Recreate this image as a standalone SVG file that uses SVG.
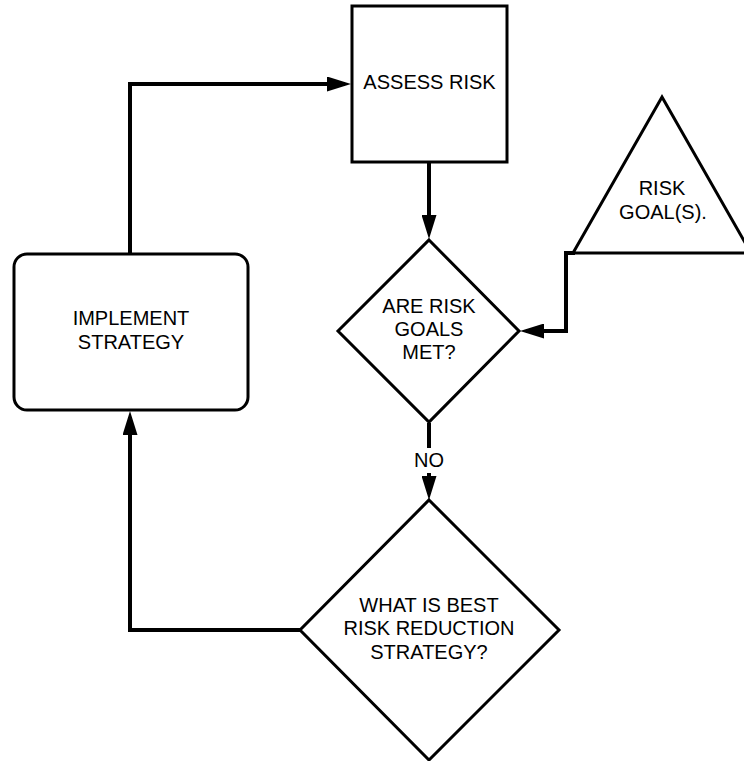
<svg xmlns="http://www.w3.org/2000/svg" width="744" height="761" viewBox="0 0 744 761">
<defs>
<style>
.shape{fill:#fff;stroke:#000;stroke-width:3;stroke-linejoin:miter}
.conn{fill:none;stroke:#000;stroke-width:4;stroke-linejoin:miter}
.lbl{font-family:"Liberation Sans",Arial,sans-serif;font-size:20px;fill:#000;text-anchor:middle}
</style>
<marker id="ah" viewBox="0 0 24 15" refX="18" refY="7.5" markerWidth="24" markerHeight="15" markerUnits="userSpaceOnUse" orient="auto">
<path d="M0,0 L24,7.5 L0,15 z" fill="#000"/>
</marker>
</defs>
<rect width="744" height="761" fill="#fff"/>
<g id="connectors">
<path class="conn" d="M130,254 L130,84 L345,84" marker-end="url(#ah)"/>
<path class="conn" d="M429,162 L429,233" marker-end="url(#ah)"/>
<path class="conn" d="M575,253 L566,253 L566,331 L526,331" marker-end="url(#ah)"/>
<path class="conn" d="M429,423 L429,494" marker-end="url(#ah)"/>
<path class="conn" d="M300,630 L130,630 L130,417" marker-end="url(#ah)"/>
<rect x="410" y="448" width="38" height="25" fill="#fff"/>
<text class="lbl" x="429" y="467">NO</text>
</g>
<g id="assess-risk">
<rect class="shape" x="352" y="6" width="155" height="156"/>
<text class="lbl" x="429.5" y="89">ASSESS RISK</text>
</g>
<g id="risk-goals">
<polygon class="shape" points="662,97 751,253 573,253"/>
<text class="lbl" x="662" y="195">RISK</text>
<text class="lbl" x="663" y="219">GOAL(S).</text>
</g>
<g id="are-goals-met">
<polygon class="shape" points="429,240 519,331 429,422 338,331"/>
<text class="lbl" x="429" y="313">ARE RISK</text>
<text class="lbl" x="429" y="336">GOALS</text>
<text class="lbl" x="429" y="359">MET?</text>
</g>
<g id="implement-strategy">
<rect class="shape" x="14" y="254" width="234" height="156" rx="13" ry="13"/>
<text class="lbl" x="131" y="325">IMPLEMENT</text>
<text class="lbl" x="131" y="349">STRATEGY</text>
</g>
<g id="best-strategy">
<polygon class="shape" points="429,500 559,630 429,760 300,630"/>
<text class="lbl" x="429" y="612">WHAT IS BEST</text>
<text class="lbl" x="429" y="635">RISK REDUCTION</text>
<text class="lbl" x="429" y="659">STRATEGY?</text>
</g>
</svg>
